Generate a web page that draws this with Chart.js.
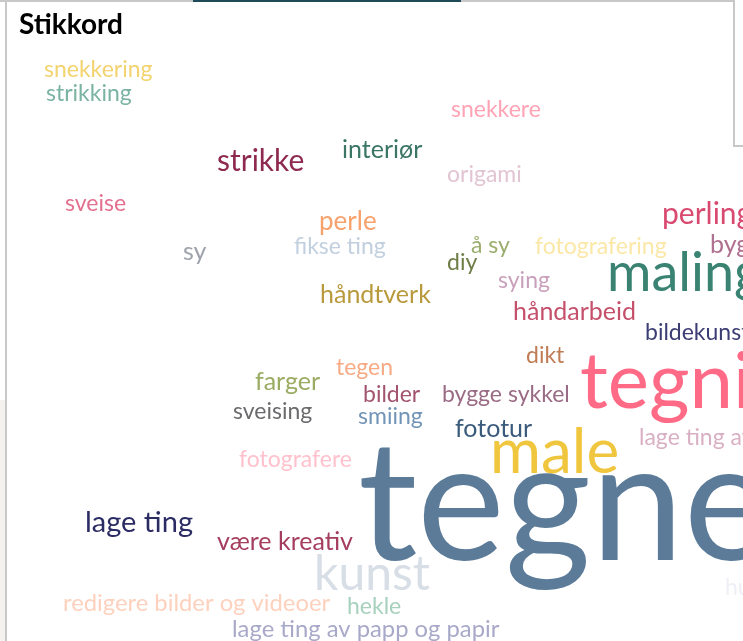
<!DOCTYPE html>
<html>
<head>
<meta charset="utf-8">
<script src="https://cdn.jsdelivr.net/npm/chart.js@4/dist/chart.umd.min.js"></script>
<style>
  html, body { margin: 0; padding: 0; background: #fff; overflow: hidden; }
  #ramme { position: relative; width: 743px; height: 641px; }
  #miGrafico { position: absolute; left: 0; top: 0; }
  .strek { position: absolute; }
  #tittel { position: absolute; left: 19px; top: 6px; font: bold 28px Lato, sans-serif; color: #000; }
</style>
</head>
<body>
<div id="ramme">
  <div class="strek" style="left:0;top:400px;width:5px;height:241px;background:#f3f2ee"></div>
  <div class="strek" style="left:5px;top:0;width:2px;height:641px;background:#c8c8c8"></div>
  <div class="strek" style="left:0;top:0;width:735px;height:2px;background:#c8c8c8"></div>
  <div class="strek" style="left:193px;top:0;width:268px;height:2px;background:#1f4a5a"></div>
  <div class="strek" style="left:733px;top:0;width:2px;height:147px;background:#c8c8c8"></div>
  <div class="strek" style="left:733px;top:145px;width:10px;height:2px;background:#c8c8c8"></div>
  <canvas id="miGrafico" width="743" height="641"></canvas>
  <div id="tittel">Stikkord</div>
</div>
<script>
// ordene i ordskyen
var ord = ['snekkering', 'strikking', 'snekkere', 'interiør', 'strikke', 'origami', 'sveise', 'perle',
  'perling', 'sy', 'fikse ting', 'å sy', 'fotografering', 'bygge', 'diy', 'maling', 'sying',
  'håndtverk', 'håndarbeid', 'bildekunst', 'dikt', 'tegning', 'tegen', 'farger', 'bilder',
  'bygge sykkel', 'sveising', 'smiing', 'fototur', 'lage ting av tre', 'male', 'fotografere',
  'tegne', 'lage ting', 'være kreativ', 'kunst', 'redigere bilder og videoer', 'hekle',
  'lage ting av papp og papir', 'hus'];
// venstre kant og grunnlinje for hvert ord
var posX = [44, 46, 451, 342, 217, 447, 65, 319, 662, 183, 294, 471, 535, 710, 447, 607, 498,
  320, 513, 645, 526, 580, 336, 255, 363, 442, 233, 358, 455, 639, 490, 239,
  358, 85, 217, 314, 63, 347, 232, 725];
var posY = [77, 101, 117, 158, 171, 182, 211, 230, 224, 260, 254, 253, 254, 253, 270, 291, 288,
  303, 320, 340, 363, 408, 375, 390, 402, 402, 419, 424, 437, 445, 473, 467,
  560, 532, 550, 590, 611, 614, 637, 595];
// skriftstørrelse
var storrelse = [23, 23, 23, 25, 30, 23, 23, 26, 30, 25, 23, 23, 23, 25, 23, 54, 23,
  25, 25, 23, 23, 78, 23, 25, 23, 23, 23, 23, 25, 23, 62, 23,
  166, 29, 25, 48, 23.8, 23, 23.8, 23];
var farger = ['#f3d36f', '#7ab3a3', '#ffa3b5', '#3a7565', '#8e2a4f', '#e2c5d3', '#e4708f', '#f7a26d',
  '#d84a70', '#9ea3ab', '#c1cfdf', '#9aad6c', '#fbe7a6', '#b07090', '#6e7c45', '#3a8272', '#c9a0bb',
  '#b89a3c', '#c5506c', '#3b3d74', '#c07d55', '#ff6b86', '#f7ab84', '#9aab62', '#a3546f',
  '#9a6b84', '#6b6b6e', '#7294b6', '#3b5b7c', '#d9b0c3', '#f0c63f', '#ffc2cd',
  '#5b7b99', '#2c2c64', '#a53d5e', '#d8dee6', '#fdd1bd', '#a8d1bd', '#a8a9c9', '#eef0f5'];

var punkter = [];
for (let i = 0; i < ord.length; i++) {
  punkter.push({x: posX[i], y: posY[i]});
}

// tegner ordene der punktene ligger
var ordPlugin = {
  id: 'ordsky',
  afterDatasetsDraw: function (chart) {
    var ctx = chart.ctx;
    var meta = chart.getDatasetMeta(0);
    ctx.save();
    ctx.textAlign = 'left';
    ctx.textBaseline = 'alphabetic';
    meta.data.forEach(function (p, i) {
      ctx.font = storrelse[i] + 'px Lato, sans-serif';
      ctx.fillStyle = farger[i];
      ctx.fillText(ord[i], p.x, p.y);
    });
    ctx.restore();
  }
};

var ctx = document.getElementById('miGrafico').getContext('2d');
var chart = new Chart(ctx, {
  type: 'scatter',
  data: {
    datasets: [{
      label: 'Stikkord',
      data: punkter,
      pointRadius: 0,
      pointHoverRadius: 0
    }]
  },
  options: {
    responsive: false,
    animation: false,
    devicePixelRatio: 1,
    layout: { padding: 0 },
    plugins: { legend: { display: false }, tooltip: { enabled: false } },
    scales: {
      x: { type: 'linear', min: 0, max: 743, display: false },
      y: { type: 'linear', min: 0, max: 641, reverse: true, display: false }
    }
  },
  plugins: [ordPlugin]
});
</script>
</body>
</html>
